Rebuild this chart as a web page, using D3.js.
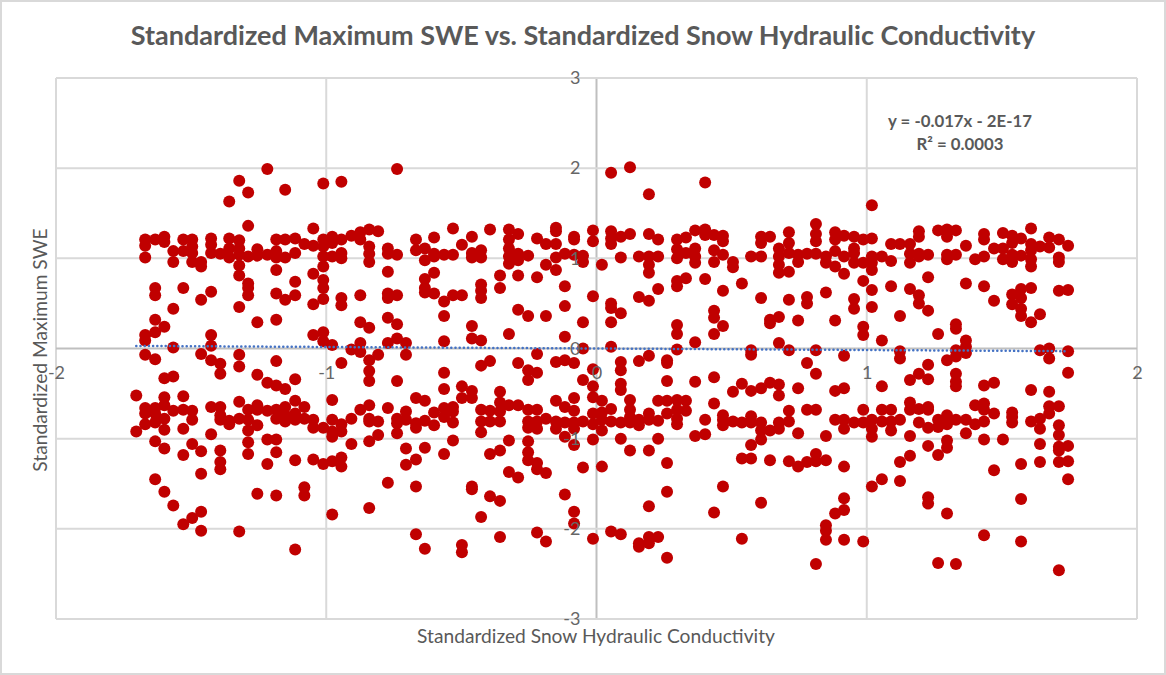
<!DOCTYPE html>
<html>
<head>
<meta charset="utf-8">
<script src="https://cdn.jsdelivr.net/npm/d3@7"></script>
<style>
  html, body { margin: 0; padding: 0; background: #fff; overflow: hidden; }
  text { font-family: Lato, "Open Sans", sans-serif; }
</style>
</head>
<body>
<svg id="chart" width="1166" height="675"></svg>
<script>
// data: each snow K level with the SWE values seen at that level
const snowK = [-1.703,-1.670,-1.633,-1.599,-1.566,-1.529,-1.496,-1.463,-1.426,-1.392,-1.359,-1.322,-1.289,-1.255,-1.218,-1.185,-1.152,-1.115,-1.081,-1.048,-1.011,-0.978,-0.944,-0.907,-0.874,-0.841,-0.808,
  -0.772,-0.738,-0.705,-0.668,-0.635,-0.601,-0.564,-0.531,-0.498,-0.461,-0.427,-0.394,-0.357,-0.324,-0.290,-0.253,-0.220,-0.187,-0.150,-0.117,-0.083,-0.050,-0.013,0.020,0.054,0.090,
  0.124,0.157,0.194,0.228,0.261,0.298,0.331,0.365,0.402,0.435,0.468,0.505,0.538,0.572,0.609,0.642,0.675,0.712,0.746,0.779,0.812,0.849,0.883,0.916,0.953,
  0.987,1.019,1.056,1.090,1.123,1.160,1.193,1.227,1.264,1.297,1.330,1.367,1.401,1.434,1.471,1.504,1.538,1.571,1.608,1.641,1.675,1.711,1.745];

const swe = [
  [-.52,-.92],
  [1.21,1.14,1.01,.15,.09,-.07,-.66,-.72,-.84],
  [1.21,.67,.59,.32,.18,-.12,-.66,-.72,-.82,-1.03,-1.45],
  [1.24,1.18,.24,-.33,-.54,-.63,-.78,-.90,-1.11,-1.59],
  [1.08,.96,.44,.01,-.31,-.69,-1.74],
  [1.21,1.08,.67,-.53,-.68,-.89,-1.18,-1.95],
  [1.21,1.13,1.06,.96,-.69,-.79,-1.06,-1.88],
  [.96,.91,.54,-.06,-1.14,-1.39,-1.81,-2.02],
  [1.22,1.15,1.06,.63,.15,.03,-.13,-.65,-.95],
  [1.05,-.17,-.28,-.65,-.74,-.79,-1.13,-1.26,-1.34],
  [1.63,1.22,1.11,1.01,-.80,-.84],
  [1.86,1.20,1.11,1.04,.92,.81,.46,-.07,-.20,-.59,-.78,-2.03],
  [1.73,1.36,1.02,.72,.67,.59,-.68,-.79,-.91,-1.04,-1.17],
  [1.10,1.03,.29,-.29,-.63,-.68,-.85,-1.61],
  [1.99,1.04,-.38,-.69,-1.01,-1.28],
  [1.21,1.08,1.01,.87,.61,.32,-.14,-.41,-.68,-.78,-1.01,-1.15,-1.63],
  [1.76,1.21,1.01,.54,-.45,-.65,-.74,-.81],
  [1.22,1.06,.74,.59,-.34,-.58,-.72,-.79,-1.24,-2.23],
  [1.16,-.65,-.78,-1.54,-1.63],
  [1.33,1.14,.83,.49,.15,-.79,-.88,-1.23],
  [1.83,1.21,1.13,1.02,.91,.76,.67,.55,.18,.08,-.88,-1.28],
  [1.24,1.17,1.02,.04,-.57,-.79,-.92,-.98,-1.25,-1.84],
  [1.85,1.21,1.06,1.00,.56,.48,-.16,-.84,-.92,-1.21,-1.31],
  [1.25,-.01,-.78,-1.06],
  [1.29,1.21,.59,.29,.06,-.04,-.68],
  [1.32,1.13,1.05,.96,.23,-.13,-.25,-.36,-.63,-.78,-.81,-1.03,-1.77],
  [1.30,-.07,-.81,-.96],
  [1.11,1.05,.85,.61,.56,.34,.06,-.66,-1.49],
  [1.99,1.04,.59,.27,.11,-.36,-.78,-.83,-.94],
  [.06,-.07,-.70,-.79,-1.11,-1.29],
  [1.21,1.09,-.55,-.83,-.88,-1.23,-1.53,-2.06],
  [1.11,.98,.77,.67,.62,-.58,-.80,-1.10,-2.22],
  [1.23,1.05,1.02,.84,.61,-.71,-.85],
  [1.04,.52,.36,.08,-.27,-.45,-.66,-.76,-1.17],
  [1.33,1.04,.59,-.65,-.70,-.82,-1.02],
  [1.15,.59,-.42,-.55,-2.18,-2.26],
  [1.24,1.06,1.01,.25,.11,-.47,-.55,-1.53,-1.56],
  [1.09,1.01,.71,.64,.56,.09,-.19,-.68,-.81,-.93,-1.87],
  [1.32,-.14,-.69,-.81,-1.17,-1.64],
  [.81,.67,-.48,-.60,-.70,-.81,-1.13,-1.69,-2.09],
  [1.32,1.21,1.11,1.02,.94,.16,-.63,-1.02,-1.37],
  [1.27,1.05,.98,.81,.43,-.16,-.63,-1.43],
  [1.03,.36,-.24,-.35,-.68,-.81,-.88,-1.03,-1.15,-1.24],
  [1.22,.79,-.06,-.27,-.68,-.81,-.89,-1.27,-1.34,-2.04],
  [1.16,.93,.36,-.78,-1.38,-2.14],
  [1.34,1.30,1.16,1.01,.87,-.15,-.58,-.81,-.89],
  [1.05,.69,.47,.13,-.13,-.65,-.82,-.98,-1.62],
  [1.24,1.21,1.04,-.16,-.55,-.69,-.82,-.89,-1.07,-1.81,-1.94],
  [1.03,.96,.29,0,-.35,-.81,-1.32],
  [1.31,1.19,.58,-.23,-.42,-.54,-.72,-.84,-1.01,-2.11],
  [.93,-.58,-.71,-.79,-.91,-1.31],
  [1.95,1.30,1.22,1.16,.50,.45,.29,.02,-.67,-.81,-2.03],
  [1.24,1.01,.39,-.15,-.24,-.39,-.46,-.82,-1.00,-2.06],
  [2.01,1.27,-.57,-.68,-.76,-.82,-1.13],
  [1.02,.57,-.14,-.79,-.85,-2.16,-2.20],
  [1.71,1.27,1.02,.93,.84,.53,-.08,-.72,-.79,-1.13,-1.75,-2.09,-2.16],
  [1.21,1.02,.66,-.58,-.80,-1.00,-2.09],
  [-.13,-.16,-.36,-.58,-.72,-1.27,-1.59,-2.32],
  [1.21,1.10,1.00,.75,.69,.26,.16,-.01,-.57,-.68,-.78,-.84],
  [1.23,1.06,.78,-.58,-.69],
  [1.31,1.11,1.02,.95,.07,-.37,-.97],
  [1.84,1.32,1.26,.77,-.79,-.95],
  [1.26,1.09,.96,.42,.34,.16,-.32,-.61,-1.82],
  [1.25,1.19,1.04,.64,.25,-.74,-.79,-.85,-1.53],
  [.96,.90,-.48,-.81],
  [.72,-.39,-.82,-1.22,-2.11],
  [1.02,-.02,-.07,-.47,-.75,-.82,-1.07,-1.22],
  [1.24,1.17,1.02,.56,-.44,-.82,-.91,-1.01,-1.71],
  [1.24,.32,.28,-.38,-.91,-1.24],
  [1.11,1.02,.93,.84,.35,.06,-.40,-.52,-.82,-.89],
  [1.29,1.17,1.06,.85,.54,-.02,-.69,-.81,-1.25],
  [1.04,.96,.31,-.44,-.94,-1.31],
  [1.05,.57,.50,-.16,-.68,-1.26],
  [1.38,1.27,1.19,1.05,-.02,-.28,-.68,-1.17,-1.25,-2.39],
  [1.02,.95,.62,-.97,-1.24,-1.96,-2.02,-2.12],
  [1.29,1.21,1.08,.91,.31,-.47,-.79,-1.83],
  [1.25,1.02,.83,-.08,-.44,-.79,-.89,-1.31,-1.66,-1.79,-2.12],
  [1.24,1.11,1.06,.95,.55,.44,-.82],
  [1.21,.95,.75,.24,.15,-.68,-.82,-2.14],
  [1.59,1.22,1.02,.95,.87,.65,.46,-.79,-.89,-.98,-1.53],
  [1.02,.09,-.42,-.68,-.81,-1.45],
  [1.16,.97,.69,-.68,-.81,-.91],
  [1.16,.36,-.03,-.11,-.79,-1.26,-1.47],
  [1.16,1.05,.95,.66,-.35,-.60,-.68,-.97,-1.19],
  [1.30,1.24,1.05,1.02,.59,.50,-.28,-.67,-.82],
  [1.04,.79,.42,-.18,-.34,-.65,-.68,-.88,-1.08,-1.65,-1.72],
  [1.31,.16,-.79,-.87,-1.18,-2.38],
  [1.32,1.24,1.04,.99,-.13,-.74,-.84,-1.02,-1.10,-1.83],
  [1.31,1.04,.27,.22,-.02,-.09,-.28,-.37,-.42,-.79,-2.39],
  [1.14,.72,.09,.02,-.05,-.79,-.94],
  [.99,-.63,-.84],
  [1.27,1.21,1.02,.69,-.41,-.61,-.68,-.81,-1.01,-2.07],
  [1.11,.53,-.38,-.72,-1.35],
  [1.28,1.11,.99,-1.01],
  [1.25,1.17,1.04,.96,.60,.49,-.71,-.76,-.82],
  [1.22,1.03,.66,.56,.44,.36,-1.28,-1.67,-2.14],
  [1.33,1.16,1.09,.99,.91,.67,.29,-.46,-.81],
  [1.13,.38,-.02,-.78,-.89,-1.06,-1.26],
  [1.23,1.12,0,-.11,-.48,-.64,-.72],
  [1.21,1.01,.96,.64,-.64,-.85,-.96,-1.09,-1.13,-1.26,-2.46],
  [1.14,.65,-.03,-.27,-1.08,-1.25,-1.45]
];

const xTicks = [-2, -1, 0, 1, 2];
const yTicks = [-3, -2, -1, 0, 1, 2, 3];
const trendSlope = -0.017;
const trendIntercept = -2e-17;

const chartTitle = 'Standardized Maximum SWE vs. Standardized Snow Hydraulic Conductivity';
const xTitle = 'Standardized Snow Hydraulic Conductivity';
const yTitle = 'Standardized Maximum SWE';

const width = 1166, height = 675;
const margin = { top: 78, right: 29, bottom: 56, left: 56 };

const x = d3.scaleLinear().domain([-2, 2]).range([margin.left, width - margin.right]);
const y = d3.scaleLinear().domain([-3, 3]).range([height - margin.bottom, margin.top]);

const svg = d3.select('#chart');

// outer chart border
svg.append('rect')
  .attr('x', 1).attr('y', 1)
  .attr('width', width - 2).attr('height', height - 2)
  .attr('fill', '#fff')
  .attr('stroke', '#D9D9D9')
  .attr('stroke-width', 2);

// gridlines
svg.append('g').selectAll('line')
  .data(xTicks)
  .enter().append('line')
  .attr('x1', d => x(d)).attr('x2', d => x(d))
  .attr('y1', y(3)).attr('y2', y(-3))
  .attr('stroke', d => d === 0 ? '#BFBFBF' : '#D9D9D9')
  .attr('stroke-width', 2);

svg.append('g').selectAll('line')
  .data(yTicks)
  .enter().append('line')
  .attr('x1', x(-2)).attr('x2', x(2))
  .attr('y1', d => y(d)).attr('y2', d => y(d))
  .attr('stroke', d => d === 0 ? '#BFBFBF' : '#D9D9D9')
  .attr('stroke-width', 2);

// points
const points = snowK.flatMap((k, i) => swe[i].map(v => ({ k, v })));

svg.append('g').selectAll('circle')
  .data(points)
  .enter().append('circle')
  .attr('cx', d => x(d.k))
  .attr('cy', d => y(d.v))
  .attr('r', 6)
  .attr('fill', '#C00000');

// linear trendline, round dots
const kRange = d3.extent(snowK);
svg.append('line')
  .attr('x1', x(kRange[0]))
  .attr('x2', x(kRange[1]))
  .attr('y1', y(trendSlope * kRange[0] + trendIntercept))
  .attr('y2', y(trendSlope * kRange[1] + trendIntercept))
  .attr('stroke', '#4472C4')
  .attr('stroke-width', 2.5)
  .attr('stroke-linecap', 'round')
  .attr('stroke-dasharray', '0.1 4.1');

// axis labels go on top of the points, as in Excel
const xAxis = svg.append('g')
  .attr('transform', `translate(0,${y(0)})`)
  .call(d3.axisBottom(x).tickValues(xTicks).tickSize(0).tickPadding(18).tickFormat(d => String(d)));
const yAxis = svg.append('g')
  .attr('transform', `translate(${x(0)},0)`)
  .call(d3.axisLeft(y).tickValues(yTicks).tickSize(0).tickPadding(16).tickFormat(d => String(d)));

[xAxis, yAxis].forEach(a => {
  a.select('.domain').remove();
  a.selectAll('text')
    .style('font-family', 'Lato, sans-serif')
    .style('font-size', '18px')
    .style('fill', '#666');
});

svg.append('text')
  .attr('x', 583).attr('y', 45)
  .attr('text-anchor', 'middle')
  .style('font-size', '27px')
  .style('font-weight', '700')
  .style('fill', '#595959')
  .text(chartTitle);

svg.append('text')
  .attr('x', 596).attr('y', 643)
  .attr('text-anchor', 'middle')
  .style('font-size', '19.2px')
  .style('fill', '#595959')
  .text(xTitle);

svg.append('text')
  .attr('transform', `translate(47,350) rotate(-90)`)
  .attr('text-anchor', 'middle')
  .style('font-size', '19.2px')
  .style('fill', '#595959')
  .text(yTitle);

// trendline equation
const eq = svg.append('g')
  .attr('text-anchor', 'middle')
  .style('font-size', '16.8px')
  .style('font-weight', '700')
  .style('fill', '#595959');
eq.append('text').attr('x', 960).attr('y', 127).text('y = -0.017x - 2E-17');
eq.append('text').attr('x', 960).attr('y', 150).text('R² = 0.0003');
</script>
</body>
</html>
